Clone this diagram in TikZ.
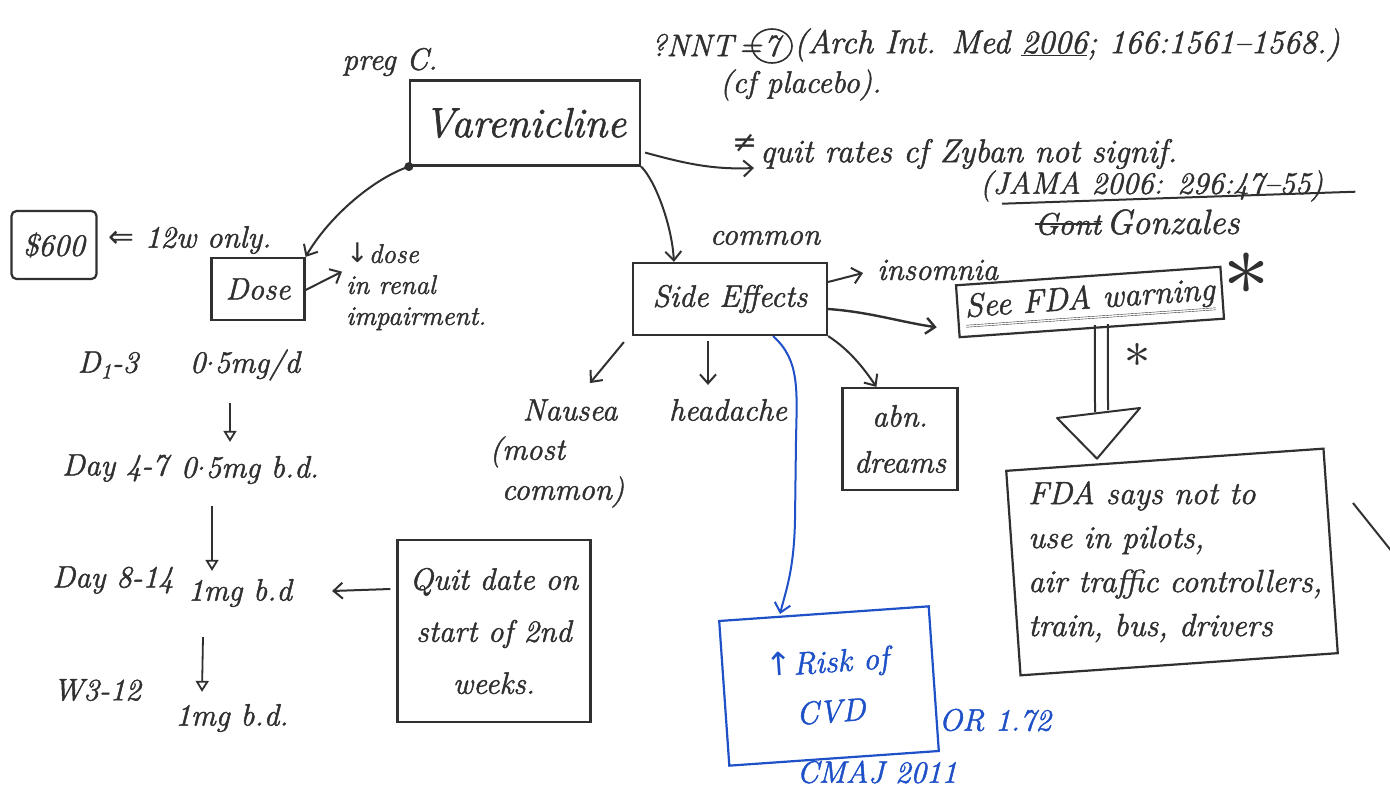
\documentclass[tikz,border=0pt]{standalone}
\usepackage{fontspec}
\setmainfont{Latin Modern Roman}[ItalicFeatures={FakeBold=1.5}]
\newfontfamily\symf{DejaVu Sans}
\newfontfamily\lmmath{Latin Modern Math}
\usetikzlibrary{arrows.meta,shapes.geometric,calc}
\definecolor{ink}{HTML}{303030}
\definecolor{bluepen}{HTML}{1E50C8}
\newcommand{\rdot}{\raisebox{0.25em}{.}}
\begin{document}
\begin{tikzpicture}[x=1pt,y=-1pt,
  hw/.style={font=\fontsize{31}{40}\selectfont\itshape, text=ink, inner sep=0pt, align=center},
  bx/.style={draw=ink, line width=2.2pt, inner sep=0pt},
  con/.style={draw=ink, line width=2pt, -{Straight Barb[length=9pt,width=16pt]}},
  bcon/.style={draw=bluepen, line width=2pt, -{Straight Barb[length=9pt,width=16pt]}},
  tri/.style={draw=ink, line width=1.8pt, -{Triangle[open,length=11pt,width=13pt]}},
  stroke/.style={draw=ink, line width=2pt},
]
\fill[white] (0,0) rectangle (1390,797);
\useasboundingbox (0,0) rectangle (1390,797);

% --- top centre
\node[hw, bx, font=\fontsize{42}{48}\selectfont\itshape, minimum width=230pt, minimum height=85pt] (var) at (525,123) {Varenicline};
\node[hw] (preg) at (390,62) {preg C.};
\node[hw, anchor=east] (nnt) at (762,45) {?NNT\,=};
\node[hw, draw=ink, line width=1.6pt, ellipse, minimum width=40pt, minimum height=34pt] (seven) at (772,46) {7};
\node[hw, anchor=west, font=\fontsize{33}{40}\selectfont\itshape] (arch) at (794,45) {(Arch Int. Med \underline{2006}; 166:1561--1568.)};
\node[hw, anchor=west] (plac) at (720,85) {(cf placebo).};
\node[hw, font=\fontsize{30}{36}\selectfont\symf] (neq) at (745,143) {≠};
\node[hw, anchor=west, font=\fontsize{33}{40}\selectfont\itshape] (qr) at (760,154) {quit rates cf Zyban not signif.};
\node[hw, anchor=west] (jama) at (980,186) {(JAMA 2006: 296:47--55)};
\draw[stroke] ($(jama.south west)+(22,2)$) -- ($(jama.south east)+(32,-10)$);
\node[hw] (gont) at (1068,224) {Gont};
\draw[stroke] (gont.west) -- (gont.east);
\node[hw, anchor=west, font=\fontsize{35}{40}\selectfont\itshape] (gonz) at (1106,222) {Gonzales};

% --- left column
\node[hw, bx, rounded corners=5pt, minimum width=85pt, minimum height=68pt] (price) at (54,245) {\$600};
\node[hw, anchor=west] (twelve) at (108,240) {{\symf ⇐}\ 12w only.};
\node[hw, bx, minimum width=93pt, minimum height=62pt] (dose) at (258,289) {Dose};
\node[hw, align=left, anchor=north west, font=\fontsize{27}{31}\selectfont\itshape] (dnote) at (346,243) {{\symf ↓}dose\\in renal\\impairment.};

\node[hw] (d13) at (108,365) {D\textsubscript{1}-3};
\node[hw] (m1) at (245,365) {0\rdot5mg/d};
\node[hw] (d47) at (115,468) {Day 4-7};
\node[hw] (m2) at (250,470) {0\rdot5mg b.d.};
\node[hw] (d814) at (113,580) {Day 8-14};
\node[hw] (m3) at (240,593) {1mg b.d};
\node[hw] (w312) at (97,690) {W3-12};
\node[hw] (m4) at (232,718) {1mg b.d.};

\node[hw, bx, minimum width=193pt, minimum height=182pt, font=\fontsize{31}{52}\selectfont\itshape] (quit) at (494,631) {Quit date on\\start of 2nd\\weeks.};

% --- side effects
\node[hw, bx, minimum width=194pt, minimum height=72pt] (se) at (730,299) {Side Effects};
\node[hw] (common) at (765,238) {common};
\node[hw, anchor=west] (ins) at (877,270) {insomnia};
\node[hw] (naus) at (570,410) {Nausea};
\node[hw, align=left] (most) at (557,472) {(most\\\hspace*{12pt}common)};
\node[hw] (head) at (728,410) {headache};
\node[hw, bx, minimum width=115pt, minimum height=102pt, font=\fontsize{31}{46}\selectfont\itshape] (abn) at (900,439) {abn.\\dreams};

% --- FDA
\node[hw, bx, rotate=4, minimum width=265pt, minimum height=52pt, font=\fontsize{33}{40}\selectfont\itshape] (sfda) at (1090,302) {\underline{\underline{See FDA warning}}};
\node[hw, font=\fontsize{92}{92}\selectfont\lmmath] (star1) at (1246,274) {∗};
\node[hw, font=\fontsize{52}{52}\selectfont\lmmath] (star2) at (1137,355) {∗};
\node[bx, rotate=4, minimum width=318pt, minimum height=205pt] (fda) at (1172,562) {};
\node[hw, align=left, anchor=north west, font=\fontsize{32}{44}\selectfont\itshape] (fdatext) at (1028,481) {FDA says not to\\use in pilots,\\air traffic controllers,\\train, bus, drivers};

% --- blue
\node[hw, bx, draw=bluepen, text=bluepen, rotate=4, minimum width=210pt, minimum height=145pt, font=\fontsize{32}{50}\selectfont\itshape] (risk) at (829,686) {{\symf ↑}Risk of\\CVD};
\node[hw, text=bluepen] (or) at (995,720) {OR 1.72};
\node[hw, text=bluepen] (cmaj) at (877,772) {CMAJ 2011};

% --- connectors
\fill[ink] (var.south west) circle (4.5pt);
\draw[con] (var.south west) .. controls (375,178) and (330,215) .. (dose.north east);
\draw[con] (var.south east) .. controls (655,180) and (672,225) .. ($(se.north west)+(42,0)$);
\draw[con] ($(var.south east)+(4,-14)$) .. controls (680,162) and (710,170) .. ($(qr.west)+(-6,14)$);
\draw[con] ($(dose.east)+(-2,2)$) -- ($(dnote.west)+(-4,-15)$);

\draw[tri] ($(m1.south)+(-15,22)$) -- ($(m2.north)+(-20,-14)$);
\draw[tri] ($(m2.south)+(-38,22)$) -- ($(m3.north)+(-28,-8)$);
\draw[tri] ($(m3.south)+(-37,30)$) -- ($(m4.north)+(-30,-12)$);
\draw[con] ($(quit.west)+(-6,-42)$) -- ($(m3.east)+(40,-2)$);

\draw[con] ($(se.east)+(0,-17)$) -- ($(ins.west)+(-14,3)$);
\draw[con, line width=2.4pt] ($(se.east)+(0,10)$) .. controls (870,312) and (900,322) .. ($(sfda.west)+(-20,16)$);
\draw[con] ($(se.south west)+(-8,6)$) -- ($(naus.north)+(20,-16)$);
\draw[con] ($(se.south)+(-22,5)$) -- ($(head.north)+(-20,-14)$);
\draw[con] (se.south east) .. controls (850,350) and (865,370) .. ($(abn.north west)+(35,0)$);
\draw[bcon] ($(se.south)+(43,0)$) .. controls (800,360) and (797,390) .. (796,440) -- (795,520) .. controls (794,570) and (786,590) .. ($(risk.north west)+(62,-6)$);

% double-shaft arrow
\coordinate (sa) at ($(sfda.south)+(3,-4)$);
\coordinate (sb) at ($(sfda.south)+(16,-5)$);
\draw[stroke] (sa) -- (1095,412);
\draw[stroke] (sb) -- (1108,410);
\draw[stroke, line join=round] (1057,418) -- (1140,408) -- (fda.north -| 1097,0) -- cycle;

% stray stroke at right edge
\coordinate (edgeA) at (1353,503);
\coordinate (edgeB) at (1393,553);
\draw[stroke] (edgeA) -- (edgeB);
\end{tikzpicture}
\end{document}
